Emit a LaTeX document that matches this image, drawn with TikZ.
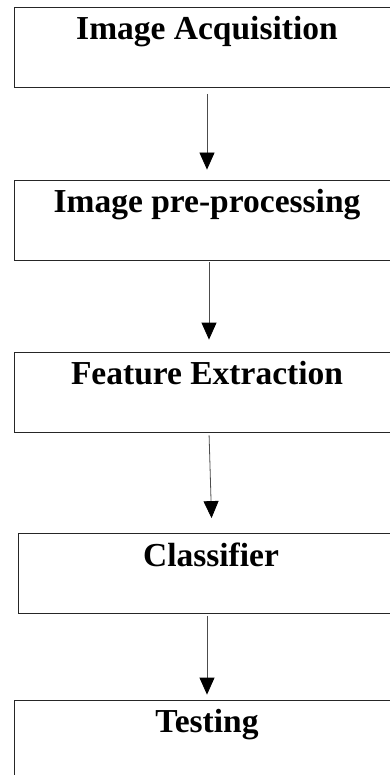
\documentclass[tikz,border=0pt]{standalone}
\usepackage{fontspec}
\setmainfont{Liberation Serif}
\usetikzlibrary{arrows.meta}

\tikzset{
  stagebox/.style={draw=black!85, line width=0.8pt, minimum width=386pt, minimum height=80pt,
    inner xsep=0pt, inner ysep=5pt, text height=27.5pt, text depth=42.5pt,
    font=\fontsize{33.5}{40}\selectfont\bfseries},
  flowarrow/.style={black!70, line width=0.8pt, -{Triangle[width=15pt,length=17pt,color=black]}}
}

\begin{document}
\begin{tikzpicture}[x=1pt, y=-1pt]
  \useasboundingbox (0,0) rectangle (390,775);

  % Add boxes
  \node[stagebox] (acq) at (207,47.5) {Image Acquisition};
  \node[stagebox] (pre) at (207,220) {Image pre-processing};
  \node[stagebox] (feat) at (207,392) {Feature Extraction};
  \node[stagebox] (clf) at (211,573.5) {Classifier};
  \node[stagebox] (test) at (207,740) {Testing};

  % Add arrows
  \draw[flowarrow, shorten <=6pt, shorten >=10pt] (acq.south) -- (pre.north);
  \draw[flowarrow, shorten <=2pt, shorten >=12pt] ([xshift=2pt]pre.south) -- ([xshift=2pt]feat.north);
  \draw[flowarrow, shorten <=3pt, shorten >=15pt] ([xshift=2pt]feat.south) -- ([xshift=1pt]clf.north);
  \draw[flowarrow, shorten <=2pt, shorten >=5pt] ([xshift=-4pt]clf.south) -- (test.north);

\end{tikzpicture}
\end{document}
